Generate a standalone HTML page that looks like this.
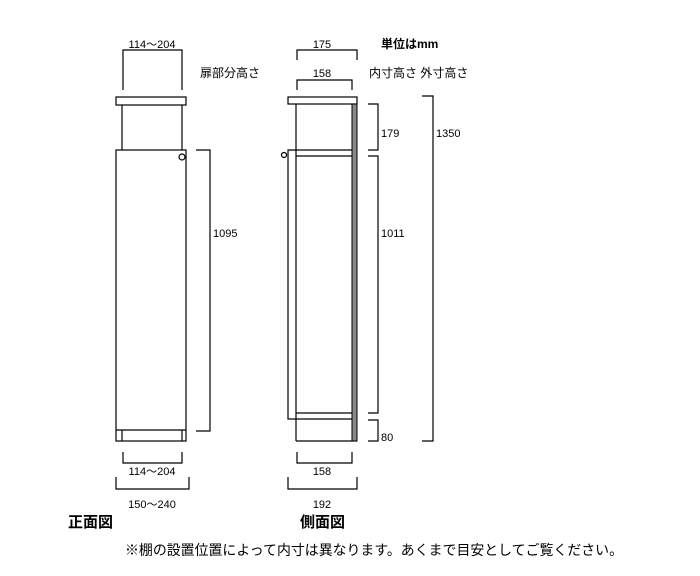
<!DOCTYPE html>
<html><head><meta charset="utf-8"><style>
body{margin:0;background:#fff}
svg text{font-family:"Liberation Sans","Noto Sans CJK JP",sans-serif;font-size:11px;fill:#000}
</style></head><body>
<svg width="700" height="571" xmlns="http://www.w3.org/2000/svg">
<g fill="none" stroke="#000" stroke-width="1.2">
<polyline points="123,90 123,50 182,50 182,90"/>
<rect x="116" y="97" width="70" height="8"/>
<line x1="122" y1="105" x2="122" y2="150"/>
<line x1="182" y1="105" x2="182" y2="150"/>
<rect x="116" y="150" width="70" height="291"/>
<line x1="116" y1="430" x2="186" y2="430"/>
<line x1="122" y1="430" x2="122" y2="441"/>
<line x1="182" y1="430" x2="182" y2="441"/>
<circle cx="182" cy="157" r="3"/>
<polyline points="196,150 210,150 210,431 196,431"/>
<polyline points="123,452 123,463 182,463 182,452"/>
<polyline points="116,477 116,489 189,489 189,477"/>
<polyline points="297,60 297,50 357,50 357,60"/>
<polyline points="297,90 297,80 352,80 352,90"/>
<rect x="288" y="97" width="69" height="7"/>
<line x1="296" y1="104" x2="296" y2="441"/>
<line x1="296" y1="441" x2="357" y2="441"/>
<line x1="296" y1="150" x2="352" y2="150"/>
<line x1="296" y1="156" x2="352" y2="156"/>
<line x1="296" y1="413" x2="352" y2="413"/>
<line x1="296" y1="419" x2="352" y2="419"/>
<polyline points="296,150 288,150 288,419 296,419"/>
<circle cx="284" cy="155" r="2.5"/>
<polyline points="368,104 378,104 378,150 368,150"/>
<polyline points="368,156 378,156 378,413 368,413"/>
<polyline points="368,420 378,420 378,441 368,441"/>
<polyline points="422,96 433,96 433,441 422,441"/>
<polyline points="297,452 297,463 352,463 352,452"/>
<polyline points="288,477 288,489 357,489 357,477"/>
</g>
<rect x="352" y="104" width="5" height="337" fill="#888" stroke="#000" stroke-width="1"/>
<text x="152" y="48" text-anchor="middle">114～204</text>
<text x="200" y="77" style="font-size:12px">扉部分高さ</text>
<text x="213" y="237">1095</text>
<text x="152" y="475" text-anchor="middle">114～204</text>
<text x="152" y="508" text-anchor="middle">150～240</text>
<text x="68" y="527" style="font-size:15px;font-weight:bold">正面図</text>
<text x="322" y="48" text-anchor="middle">175</text>
<text x="322" y="77" text-anchor="middle">158</text>
<text x="381" y="48" style="font-weight:bold;font-size:12px">単位はmm</text>
<text x="369" y="77" style="font-size:12px">内寸高さ  外寸高さ</text>
<text x="381" y="137">179</text>
<text x="381" y="237">1011</text>
<text x="381" y="441">80</text>
<text x="436" y="137">1350</text>
<text x="322" y="475" text-anchor="middle">158</text>
<text x="322" y="508" text-anchor="middle">192</text>
<text x="300" y="527" style="font-size:15px;font-weight:bold">側面図</text>
<text x="125" y="555" style="font-size:14px" textLength="498" lengthAdjust="spacingAndGlyphs">※棚の設置位置によって内寸は異なります。あくまで目安としてご覧ください。</text>
</svg>
</body></html>
